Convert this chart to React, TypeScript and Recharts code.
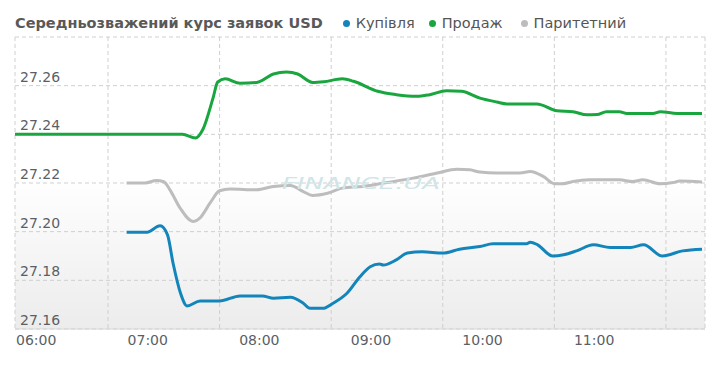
import React from "react";
import { LineChart, Line, XAxis, YAxis, CartesianGrid } from "recharts";

// time in minutes after 06:00
const buyTimes = [60, 71, 78, 82, 85, 89, 92.5, 99.5, 110, 121, 133, 139, 148, 155, 158.6, 165.6, 171, 178.5, 185.5, 191, 196, 198, 205, 211, 219, 230, 239, 250, 257, 275, 277, 281, 289, 295, 302, 311, 320, 331, 338, 348, 359, 369.4];
const buyValues = [27.1998, 27.1998, 27.2024, 27.1987, 27.187, 27.1747, 27.1695, 27.1715, 27.1715, 27.1736, 27.1736, 27.1726, 27.173, 27.1706, 27.1685, 27.1685, 27.1706, 27.1747, 27.1815, 27.1856, 27.1867, 27.1863, 27.1884, 27.1912, 27.1917, 27.1912, 27.1928, 27.1939, 27.195, 27.195, 27.1957, 27.1946, 27.19, 27.1905, 27.1921, 27.1946, 27.1935, 27.1935, 27.1946, 27.19, 27.1921, 27.1928];

const sellTimes = [0, 90, 97, 101, 106.5, 109, 113, 121, 130, 139, 146, 152, 160, 166, 176, 182, 195, 205, 216, 223, 232, 240, 250, 259, 264.5, 280.6, 291.4, 300, 307.5, 313, 318, 325, 329, 343, 347, 356, 369.4];
const sellValues = [27.24, 27.24, 27.2385, 27.242, 27.255, 27.2615, 27.2628, 27.261, 27.2613, 27.2648, 27.2656, 27.2648, 27.2613, 27.2616, 27.2628, 27.2618, 27.2577, 27.2563, 27.2556, 27.2563, 27.2579, 27.2577, 27.2549, 27.2533, 27.2525, 27.2525, 27.2497, 27.2493, 27.248, 27.2481, 27.2493, 27.2493, 27.2486, 27.2486, 27.2493, 27.2486, 27.2486];

const parTimes = [60, 70, 76, 80, 83.3, 88.7, 95.7, 99.5, 105, 110, 115.6, 130, 139, 148, 155, 160, 168, 176, 187, 200, 214, 227, 237.6, 244.6, 250, 259, 271.5, 277, 284, 290, 294.6, 300, 309, 325, 332, 337.6, 346.8, 353.8, 357.5, 369.4];
const parValues = [27.22, 27.22, 27.221, 27.2205, 27.2172, 27.2098, 27.2042, 27.2057, 27.2119, 27.2168, 27.2175, 27.2172, 27.2186, 27.219, 27.2165, 27.2149, 27.2158, 27.2179, 27.2186, 27.2202, 27.222, 27.2241, 27.2257, 27.2254, 27.2245, 27.2241, 27.2241, 27.2247, 27.2227, 27.2197, 27.2197, 27.2206, 27.2213, 27.2213, 27.2206, 27.2213, 27.2197, 27.2202, 27.2208, 27.2204];

const xLabelTicks = [0, 60, 120, 180, 240, 300];
const xLabelTexts = ["06:00", "07:00", "08:00", "09:00", "10:00", "11:00"];
const xGridTicks = [50, 110, 170, 230, 290, 350];
const yTicks = [27.16, 27.18, 27.2, 27.22, 27.24, 27.26, 27.28];
const yLabelTicks = [27.16, 27.18, 27.2, 27.22, 27.24, 27.26];

const seriesNames = ["Купівля", "Продаж", "Паритетний"];
const seriesColors = ["#1385bb", "#1aa63f", "#bdbdbd"];
const legendGaps = [20, 14, 18];
const title = "Середньозважений курс заявок USD";

const zip = (t: number[], v: number[]) => t.map((x, i) => ({ t: x, v: v[i] }));
const buyData = zip(buyTimes, buyValues);
const sellData = zip(sellTimes, sellValues);
const parData = zip(parTimes, parValues);

const FONT = "'DejaVu Sans', Verdana, sans-serif";

const YTick = (props: any) => {
  const { x, y, payload } = props;
  if (!yLabelTicks.some((v) => Math.abs(v - payload.value) < 1e-6)) return <g />;
  return (
    <text x={x} y={y - 4} textAnchor="start" fontSize={14} fill="#5a5f66" fontFamily={FONT}>
      {payload.value.toFixed(2)}
    </text>
  );
};

const XTick = (props: any) => {
  const { x, y, payload } = props;
  const i = xLabelTicks.indexOf(payload.value);
  return (
    <text x={x + 1} y={y + 8} textAnchor="start" fontSize={14} fill="#5a5f66" fontFamily={FONT}>
      {xLabelTexts[i]}
    </text>
  );
};

const Empty = () => <g />;

export default function App() {
  return (
    <div style={{ position: "relative", width: 704, height: 353, fontFamily: FONT }}>
      <div
        style={{
          position: "absolute",
          left: -7,
          top: -8,
          width: 716,
          height: 369,
          borderLeft: "1px dotted #c8c8c8",
          borderRight: "1px dotted #c8c8c8",
          boxSizing: "border-box",
        }}
      />
      <div
        style={{
          position: "absolute",
          left: 7,
          top: 7,
          display: "flex",
          alignItems: "center",
          fontSize: 14.5,
          lineHeight: "17px",
          color: "#555",
          whiteSpace: "nowrap",
        }}
      >
        <span style={{ fontWeight: "bold", color: "#595959" }}>{title}</span>
        {seriesNames.map((n, i) => (
          <span key={n} style={{ display: "flex", alignItems: "center", marginLeft: legendGaps[i] }}>
            <span
              style={{
                display: "inline-block",
                width: 7,
                height: 7,
                borderRadius: "50%",
                background: seriesColors[i],
                marginRight: 6,
              }}
            />
            <span>{n}</span>
          </span>
        ))}
      </div>
      <LineChart width={704} height={353} margin={{ top: 29, right: 7, left: 7, bottom: 12 }}>
        <defs>
          <linearGradient id="plotBg" x1="0" y1="0" x2="0" y2="1">
            <stop offset="0" stopColor="#ffffff" />
            <stop offset="0.48" stopColor="#ffffff" />
            <stop offset="1" stopColor="#ececec" />
          </linearGradient>
        </defs>
        <CartesianGrid
          xAxisId="grid"
          stroke="#cfcfcf"
          strokeDasharray="4 3"
          fill="url(#plotBg)"
          fillOpacity={1}
        />
        <XAxis
          xAxisId="grid"
          type="number"
          dataKey="t"
          domain={[0, 371]}
          ticks={xGridTicks}
          allowDataOverflow
          height={0}
          axisLine={false}
          tickSize={7}
          tickLine={{ stroke: "#cfcfcf", strokeDasharray: "3 2" }}
          tick={<Empty />}
          interval={0}
        />
        <XAxis
          xAxisId="lab"
          type="number"
          dataKey="t"
          domain={[0, 371]}
          ticks={xLabelTicks}
          allowDataOverflow
          height={20}
          axisLine={{ stroke: "#d8d8d8" }}
          tickLine={false}
          tick={<XTick />}
          interval={0}
        />
        <YAxis
          type="number"
          domain={[27.16, 27.28]}
          ticks={yTicks}
          allowDataOverflow
          width={50}
          mirror
          axisLine={false}
          tickLine={false}
          tickSize={0}
          tickMargin={5}
          tick={<YTick />}
          interval={0}
        />
        <Line xAxisId="grid" data={sellData} dataKey="v" name={seriesNames[1]} type="monotone" stroke={seriesColors[1]} strokeWidth={3} dot={false} isAnimationActive={false} />
        <Line xAxisId="grid" data={parData} dataKey="v" name={seriesNames[2]} type="monotone" stroke={seriesColors[2]} strokeWidth={3} dot={false} isAnimationActive={false} />
        <Line xAxisId="grid" data={buyData} dataKey="v" name={seriesNames[0]} type="monotone" stroke={seriesColors[0]} strokeWidth={3} dot={false} isAnimationActive={false} />
      </LineChart>
      <svg style={{ position: "absolute", left: 274, top: 164, pointerEvents: "none" }} width={170} height={24}>
        <text
          x={0}
          y={17}
          fontSize={16}
          fontStyle="italic"
          fontFamily={FONT}
          fill="#cfe5e8"
          textLength={158}
          lengthAdjust="spacingAndGlyphs"
        >
          FINANCE.UA
        </text>
      </svg>
    </div>
  );
}
